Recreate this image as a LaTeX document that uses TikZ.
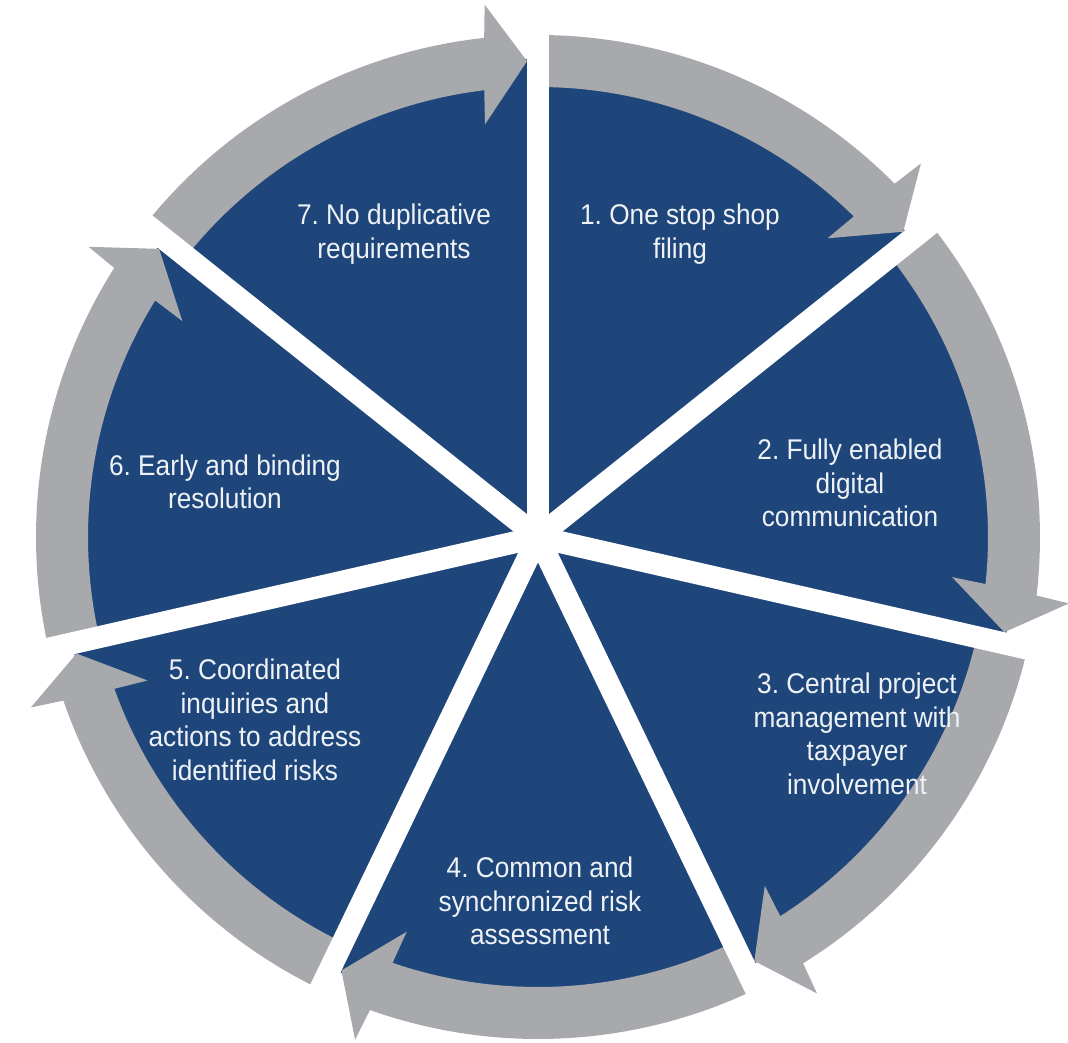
\documentclass[tikz,border=0pt]{standalone}
\usepackage{fontspec}
\setmainfont{Liberation Sans}[FakeStretch=0.92]
\definecolor{secblue}{HTML}{1F467A}
\definecolor{ringgray}{HTML}{A7A9AC}
\definecolor{labeltext}{HTML}{EEF2F7}
\begin{document}
\frenchspacing
\begin{tikzpicture}[
  labeltxt/.style={text=labeltext, align=center, font=\fontsize{28.5}{33.5}\selectfont, inner sep=0pt},
  divider/.style={draw=white, line width=22pt},
  ringarrow/.style={fill=ringgray, draw=none}]
\useasboundingbox (-538pt,-505pt) rectangle (530pt,537pt);
\coordinate (c) at (0pt,0pt);
\fill[secblue] (c) circle[radius=478pt];
\foreach \k in {0,...,6}{
  \pgfmathsetmacro{\ts}{90-\k*360/7}
  \pgfmathsetmacro{\tt}{\ts-360/7+1.32}
  \pgfmathsetmacro{\ta}{\tt+4.84}
  \pgfmathsetmacro{\tb}{\tt+4.4}
  \pgfmathsetmacro{\tc}{\tt+6.0}
  \pgfmathsetmacro{\td}{\tt+5.54}
  \fill[ringarrow] (\ts:502pt) arc[start angle=\ts, end angle=\ta, radius=502pt]
     -- (\tb:535pt) -- (\tt:476pt) -- (\tc:416pt) -- (\td:450pt)
     arc[start angle=\td, end angle=\ts, radius=450pt] -- cycle;
}
\foreach \k in {0,...,6}{
  \pgfmathsetmacro{\ts}{90-\k*360/7}
  \coordinate (e\k) at (\ts:570pt);
  \draw[divider] (c) -- (e\k);
}
\node[labeltxt] (s1) at (142pt,303pt) {1. One stop shop\\filing};
\node[labeltxt] (s2) at (312pt,54pt) {2. Fully enabled\\digital\\communication};
\node[labeltxt] (s3) at (319pt,-197pt) {3. Central project\\management with\\taxpayer\\involvement};
\node[labeltxt] (s4) at (2pt,-364pt) {4. Common and\\synchronized risk\\assessment};
\node[labeltxt] (s5) at (-283pt,-183pt) {5. Coordinated\\inquiries and\\actions to address\\identified risks};
\node[labeltxt] (s6) at (-313pt,55pt) {6. Early and binding\\resolution};
\node[labeltxt] (s7) at (-144pt,303pt) {7. No duplicative\\requirements};
\end{tikzpicture}
\end{document}
